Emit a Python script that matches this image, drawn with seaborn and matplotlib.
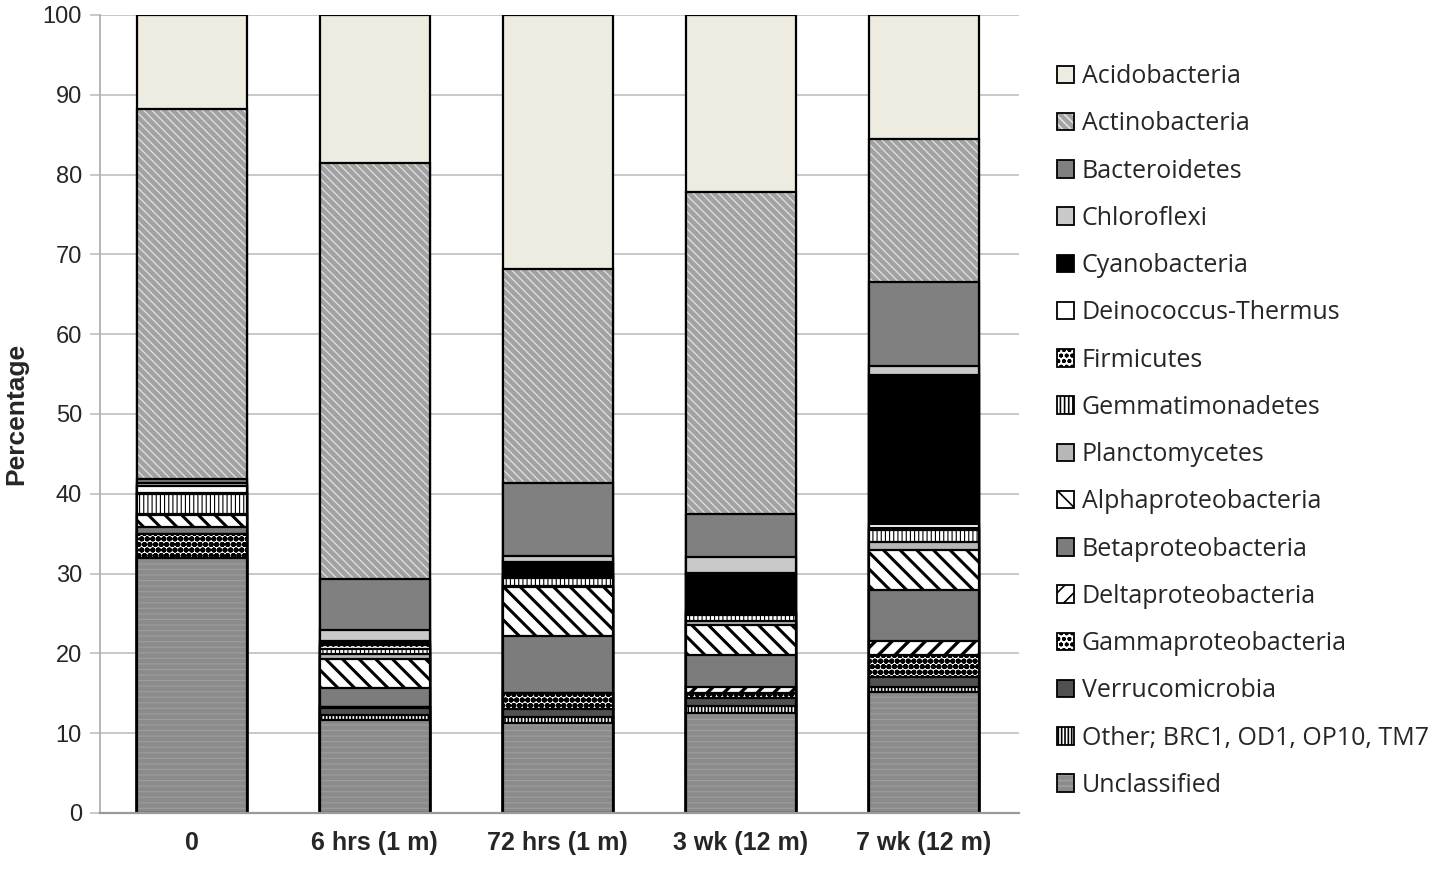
import numpy as np
import matplotlib
matplotlib.use("Agg")
import matplotlib.pyplot as plt
import matplotlib.patches as mpatches
import pandas as pd
import seaborn as sns

# sample labels (x axis)
samples = ["0", "6 hrs (1 m)", "72 hrs (1 m)", "3 wk (12 m)", "7 wk (12 m)"]

# percentages per phylum, one value per sample
unclassified     = [32.0, 11.6, 11.3, 12.5, 15.2]
other            = [0.0, 0.7, 0.7, 0.9, 0.6]
verrucomicrobia  = [0.0, 0.9, 1.0, 1.0, 1.2]
gammaproteo      = [2.9, 0.1, 2.0, 0.6, 2.8]
deltaproteo      = [0.0, 0.0, 0.0, 0.8, 1.7]
betaproteo       = [1.0, 2.4, 7.2, 4.0, 6.4]
alphaproteo      = [1.5, 3.6, 6.1, 3.8, 5.1]
planctomycetes   = [0.1, 0.6, 0.2, 0.4, 1.0]
gemmatimonadetes = [2.5, 0.7, 1.0, 0.8, 1.5]
firmicutes       = [0.1, 0.4, 0.2, 0.2, 0.2]
deinococcus      = [0.9, 0.1, 0.1, 0.3, 0.5]
cyanobacteria    = [0.0, 0.4, 1.6, 4.8, 18.7]
chloroflexi      = [0.3, 1.4, 0.8, 2.0, 1.1]
bacteroidetes    = [0.6, 6.4, 9.2, 5.4, 10.5]
actinobacteria   = [46.3, 52.1, 26.8, 40.3, 18.0]
acidobacteria    = [11.8, 18.6, 31.8, 22.2, 15.5]

# legend order (top to bottom) -> stacking is the reverse
phyla = ["Acidobacteria", "Actinobacteria", "Bacteroidetes", "Chloroflexi",
         "Cyanobacteria", "Deinococcus-Thermus", "Firmicutes", "Gemmatimonadetes",
         "Planctomycetes", "Alphaproteobacteria", "Betaproteobacteria",
         "Deltaproteobacteria", "Gammaproteobacteria", "Verrucomicrobia",
         "Other; BRC1, OD1, OP10, TM7", "Unclassified"]
values = [acidobacteria, actinobacteria, bacteroidetes, chloroflexi,
          cyanobacteria, deinococcus, firmicutes, gemmatimonadetes,
          planctomycetes, alphaproteo, betaproteo, deltaproteo, gammaproteo,
          verrucomicrobia, other, unclassified]

# (facecolor, hatch, hatch colour, hatch linewidth)
styles = {
    "Acidobacteria": ("#EEEBE0", "", None, 0),
    "Actinobacteria": ("#A2A2A2", "\\\\\\\\", "#E2E2E2", 0.9),
    "Bacteroidetes": ("#808080", "", None, 0),
    "Chloroflexi": ("#C9C9C9", "", None, 0),
    "Cyanobacteria": ("#000000", "", None, 0),
    "Deinococcus-Thermus": ("#FFFFFF", "", None, 0),
    "Firmicutes": ("#FFFFFF", "ooo", "#000000", 1.5),
    "Gemmatimonadetes": ("#FFFFFF", "||||", "#000000", 0.8),
    "Planctomycetes": ("#B7B7B7", "", None, 0),
    "Alphaproteobacteria": ("#FFFFFF", "\\\\", "#000000", 2.2),
    "Betaproteobacteria": ("#7C7C7C", "", None, 0),
    "Deltaproteobacteria": ("#FFFFFF", "//", "#000000", 2.4),
    "Gammaproteobacteria": ("#FFFFFF", "ooo", "#000000", 2.0),
    "Verrucomicrobia": ("#505050", "", None, 0),
    "Other; BRC1, OD1, OP10, TM7": ("#FFFFFF", "|||||", "#000000", 1.2),
    "Unclassified": ("#8B8B8B", "---", "#9E9E9E", 0.8),
}

sns.set_style("white")
plt.rcParams["hatch.linewidth"] = 1.2


def style_hatch(p, hatch, hcol, hlw):
    p.set_hatch(hatch)
    if hasattr(p, "set_hatch_linewidth"):
        p.set_hatch_linewidth(hlw)
    else:
        p._hatch_linewidth = hlw


fig = plt.figure(figsize=(14.5, 8.71), dpi=100)
ax = fig.add_axes([0.069, 0.0666, 0.634, 0.9162])

stack = phyla[::-1]
vals = values[::-1]
cum = np.cumsum(np.array(vals), axis=0)

# draw cumulative bars from the top layer down, each one covering the next
for i in range(len(stack) - 1, -1, -1):
    name = stack[i]
    face, hatch, hcol, hlw = styles[name]
    df = pd.DataFrame({"sample": samples, "top": cum[i]})
    n0 = len(ax.patches)
    sns.barplot(data=df, x="sample", y="top", order=samples, color=face,
                width=0.6, ax=ax, errorbar=None)
    for p in ax.patches[n0:]:
        p.set_facecolor(face)
        if hcol is None:
            p.set_edgecolor("black")
            p.set_linewidth(1.6)
        elif hcol == "#000000":
            style_hatch(p, hatch, hcol, hlw)
            p.set_edgecolor("black")
            p.set_linewidth(1.6)
        else:
            style_hatch(p, hatch, hcol, hlw)
            p.set_edgecolor(hcol)
            p.set_linewidth(0)
    if hcol is not None and hcol != "#000000":
        # black outline on top of a light-hatched layer
        n1 = len(ax.patches)
        sns.barplot(data=df, x="sample", y="top", order=samples, color=face,
                    width=0.6, ax=ax, errorbar=None)
        for p in ax.patches[n1:]:
            p.set_facecolor("none")
            p.set_edgecolor("black")
            p.set_linewidth(1.6)

ax.set_xlim(-0.5, 4.52)
ax.set_ylim(0, 100)
ax.set_yticks(range(0, 101, 10))
ax.yaxis.grid(True, color="#C4C4C4", linewidth=1.3)
ax.set_axisbelow(True)
for s in ["top", "right"]:
    ax.spines[s].set_visible(False)
ax.spines["left"].set_color("#B0B0B0")
ax.spines["bottom"].set_color("#9A9A9A")
ax.spines["left"].set_linewidth(1.3)
ax.spines["bottom"].set_linewidth(1.6)
ax.tick_params(axis="y", length=7, color="#C4C4C4", width=1.3, labelsize=17,
               pad=6, left=True)
ax.tick_params(axis="x", length=0, pad=13)
for lab in ax.get_yticklabels():
    lab.set_fontfamily("Liberation Sans")
for lab in ax.get_xticklabels():
    lab.set_fontfamily("Liberation Sans")
    lab.set_fontweight("bold")
    lab.set_fontsize(18)
ax.set_xlabel("")
ax.set_ylabel("Percentage", fontsize=19, fontweight="bold",
              family="Liberation Sans", labelpad=10)

handles = []
for name in phyla:
    face, hatch, hcol, hlw = styles[name]
    if hcol is None:
        h = mpatches.Patch(facecolor=face, edgecolor="black", linewidth=1.3)
    else:
        fill = mpatches.Patch(facecolor=face, edgecolor=hcol, linewidth=0,
                              hatch=hatch)
        border = mpatches.Patch(facecolor="none", edgecolor="black", linewidth=1.3)
        h = (fill, border)
    handles.append(h)
leg = fig.legend(handles, phyla, loc="upper left", bbox_to_anchor=(0.722, 0.938),
                 frameon=False, prop={"family": "Open Sans", "size": 18},
                 handlelength=0.7, handleheight=0.7, handletextpad=0.3,
                 labelspacing=0.89, borderaxespad=0)

fig.savefig("out.png", dpi=100)
